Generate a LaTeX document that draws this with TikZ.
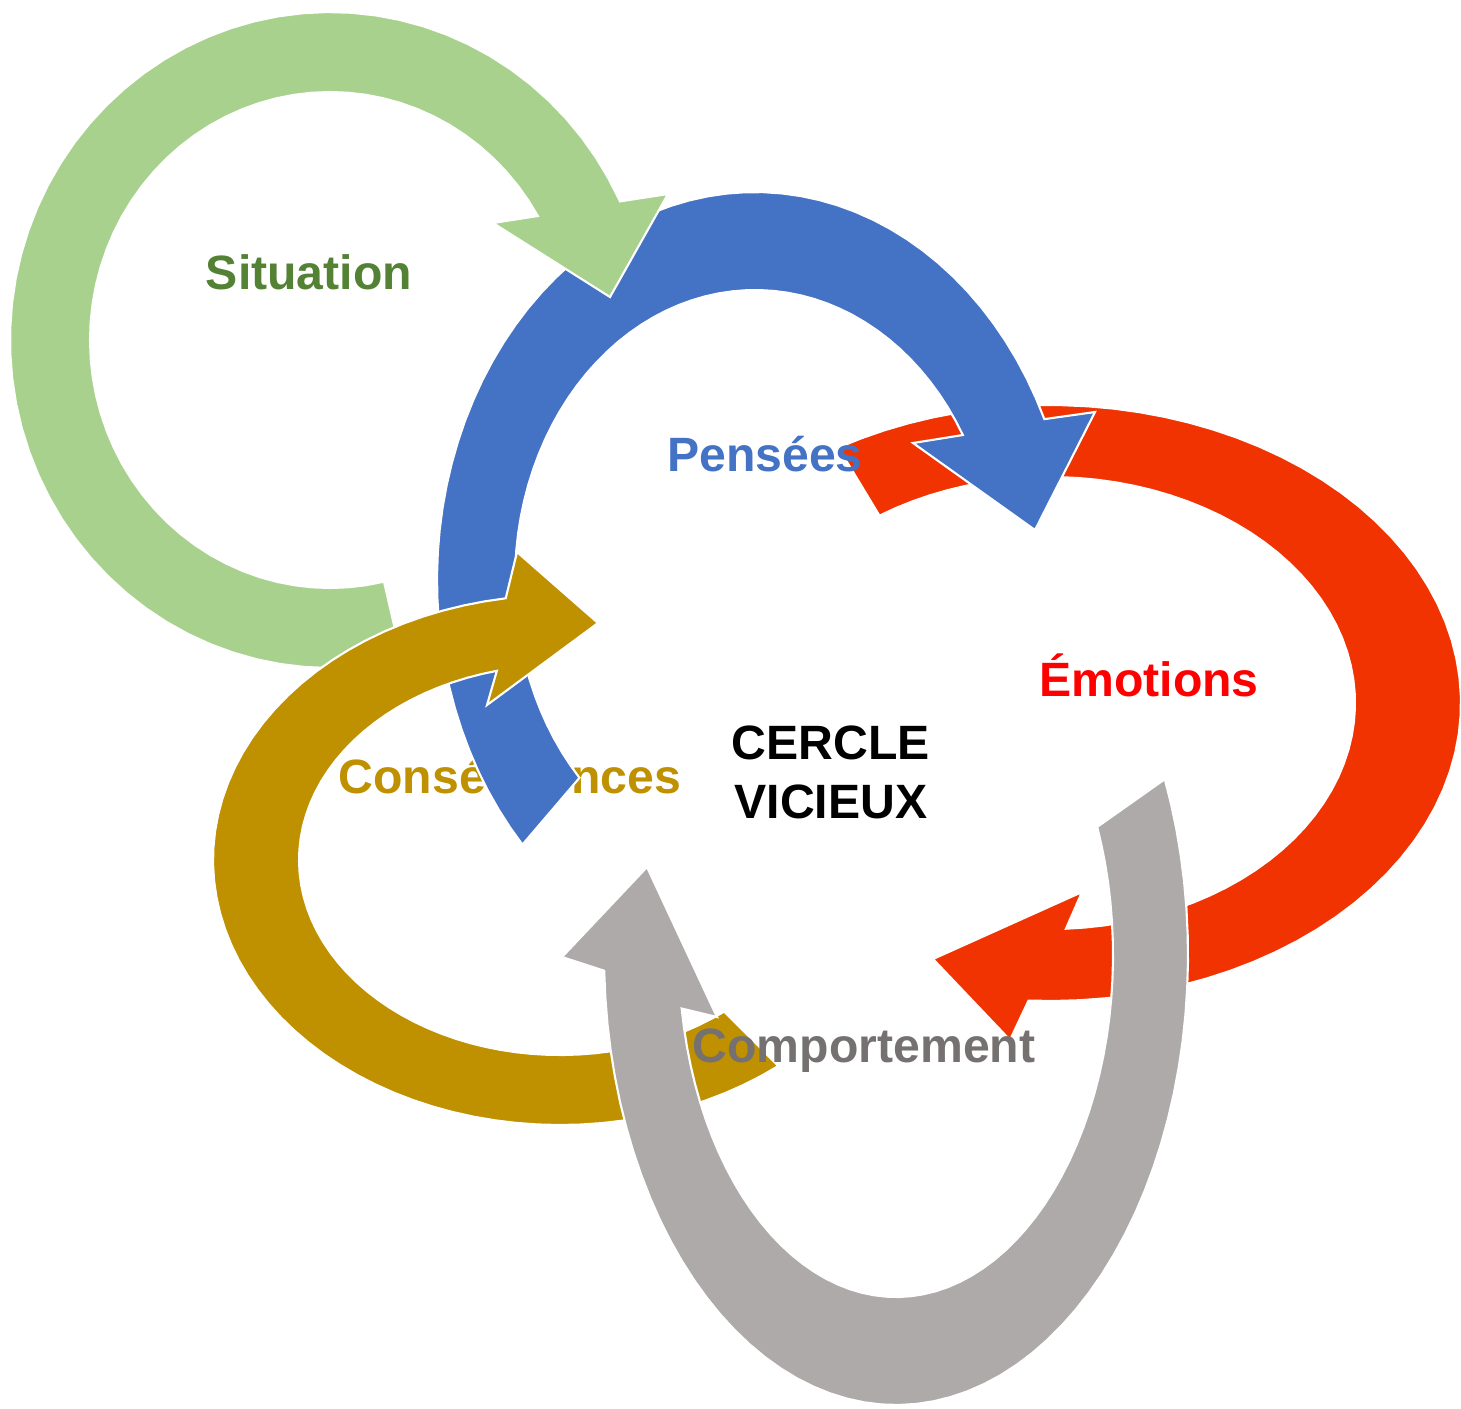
\documentclass[tikz,border=0pt]{standalone}
\usepackage{fontspec}
\setmainfont{Liberation Sans}
\usetikzlibrary{positioning}
\definecolor{sitgreen}{HTML}{A9D18E}
\definecolor{sitdark}{HTML}{548235}
\definecolor{penblue}{HTML}{4472C4}
\definecolor{emored}{HTML}{F03300}
\definecolor{emotext}{HTML}{FF0000}
\definecolor{consgold}{HTML}{BF9000}
\definecolor{compgray}{HTML}{AEAAAA}
\definecolor{comptext}{HTML}{767171}
\tikzset{
    ringarrow/.style={draw=white, line width=0.6pt, line join=miter},
    tag/.style={font=\fontsize{13.7pt}{16.8pt}\selectfont\bfseries, inner sep=0pt, anchor=base},
    arc/.style={domain=#1, samples=60}
}

\begin{document}
\begin{tikzpicture}[x=0.01cm, y=-0.01cm]
    \useasboundingbox (0,0) rectangle (1461,1408);
    % Emotions
    \fill[ringarrow, fill=emored] plot[arc=239:453] ({1050+411*cos(\x)}, {703+298*sin(\x)})
        -- (1010,1040) -- (933,959) -- (1082,892)
        -- plot[arc=447:236] ({1050+305*cos(\x)}, {703+226*sin(\x)}) -- cycle;
    \node[tag, text=consgold] (consequences) at (510,793) {Conséquences};
    % Pensees
    \fill[ringarrow, fill=penblue] plot[arc=137:335.5] ({755+318*cos(\x)}, {580+388*sin(\x)})
        -- (1095,412) -- (1035,530) -- (913,443)
        -- plot[arc=330:137] ({755+240*cos(\x)}, {580+290*sin(\x)}) -- cycle;
    % Situation
    \fill[ringarrow, fill=sitgreen] plot[arc=77:335] ({330+320*cos(\x)}, {340+328*sin(\x)})
        -- (668,194) -- (610,297) -- (493,223)
        -- plot[arc=330:77] ({330+240*cos(\x)}, {340+248*sin(\x)}) -- cycle;
    % Consequences
    \fill[ringarrow, fill=consgold] plot[arc=51:261] ({560+347*cos(\x)}, {860+265*sin(\x)})
        -- (517,552) -- (598,623) -- (487,705)
        -- plot[arc=256:51] ({560+261*cos(\x)}, {860+195*sin(\x)}) -- cycle;
    % Comportement
    \fill[ringarrow, fill=compgray] plot[arc=-23:178] ({896+292*cos(\x)}, {955+450*sin(\x)})
        -- (562,957) -- (647,867) -- (717,1017)
        -- plot[arc=171:-22] ({896+217*cos(\x)}, {955+342*sin(\x)}) -- cycle;

    \node[tag, text=sitdark] (situation) at (309,289) {Situation};
    \node[tag, text=penblue] (pensees) at (765,471) {Pensées};
    \node[tag, text=emotext] (emotions) at (1149,696) {Émotions};
    \node[tag, text=comptext] (comportement) at (864,1062) {Comportement};
    \node[tag, anchor=center, align=center] (cercle) at (831,772) {CERCLE\\VICIEUX};
\end{tikzpicture}
\end{document}
